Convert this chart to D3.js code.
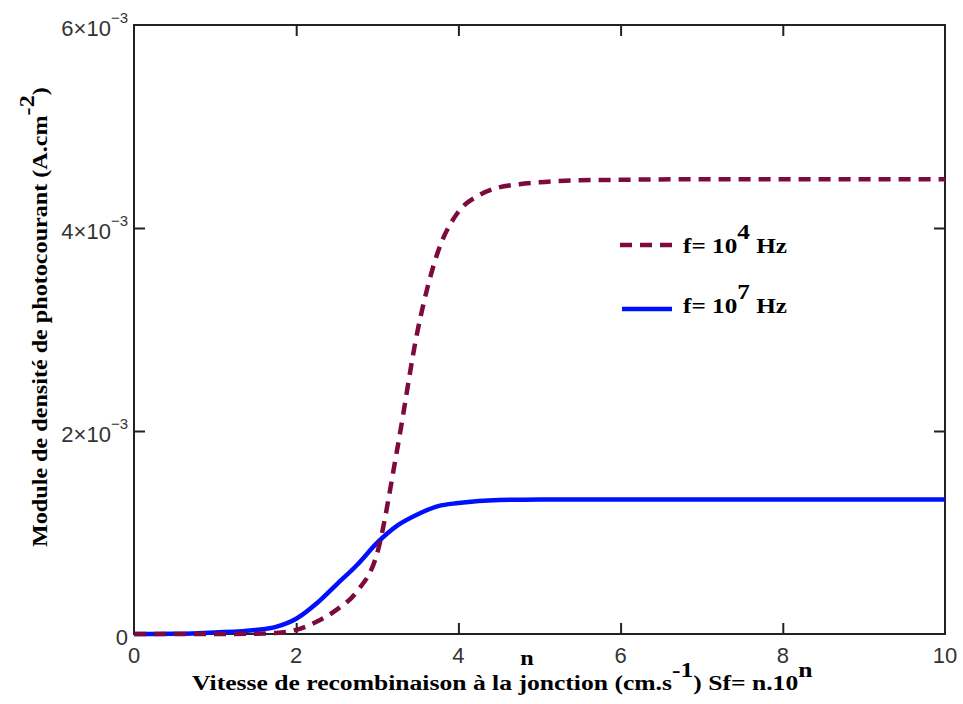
<!DOCTYPE html>
<html>
<head>
<meta charset="utf-8">
<script src="https://cdn.jsdelivr.net/npm/d3@7"></script>
<style>
  body { margin: 0; background: #fff; }
  .tick-label { font-family: "Liberation Sans", Arial, sans-serif; font-size: 22px; fill: #333; }
  .title { font-family: "Liberation Serif", "Times New Roman", serif; font-weight: bold; font-size: 21px; fill: #000; }
</style>
</head>
<body>
<script>
// Sf = n.10^n, n on the x axis
var nValues = [0, 0.5, 1, 1.5, 1.75, 2, 2.25, 2.5, 2.75, 3, 3.25, 3.5, 3.75, 4, 4.25, 4.5, 4.75, 5, 5.5, 6, 7, 8, 9, 10];

// photocurrent density modulus (A.cm-2)
var jF4 = [0, 0, 0, 0.000003, 0.00001, 0.00004, 0.00012, 0.00024, 0.00042, 0.00080, 0.00184, 0.00300, 0.00377, 0.00416, 0.00432, 0.00440, 0.00443, 0.00445, 0.00447, 0.004475, 0.00448, 0.00448, 0.00448, 0.00448];
var jF7 = [0, 0.000002, 0.000015, 0.00004, 0.00007, 0.00015, 0.00030, 0.00049, 0.00068, 0.00090, 0.00107, 0.00118, 0.00126, 0.00129, 0.00131, 0.00132, 0.001323, 0.001325, 0.001325, 0.001325, 0.001325, 0.001325, 0.001325, 0.001325];

var xTicks = [0, 2, 4, 6, 8, 10];
var yTicks = [0, 0.002, 0.004, 0.006];
var yTickMant = ["0", "2", "4", "6"];

var margin = {top: 25, right: 18, bottom: 70, left: 134},
    width = 963 - margin.left - margin.right,
    height = 704 - margin.top - margin.bottom;

var x = d3.scaleLinear().domain([0, 10]).range([0, width]);
var y = d3.scaleLinear().domain([0, 0.006]).range([height, 0]);

var svg = d3.select("body").append("svg")
    .attr("width", 963)
    .attr("height", 704);

var g = svg.append("g")
    .attr("transform", "translate(" + margin.left + "," + margin.top + ")");

// ticks on all four sides, pointing inward
var tickLen = 11;
g.append("g").call(d3.axisBottom(x).tickValues(xTicks.slice(1, -1)).tickSize(-tickLen).tickFormat(""))
    .attr("transform", "translate(0," + height + ")");
g.append("g").call(d3.axisTop(x).tickValues(xTicks.slice(1, -1)).tickSize(-tickLen).tickFormat(""));
g.append("g").call(d3.axisLeft(y).tickValues(yTicks.slice(1, -1)).tickSize(-tickLen).tickFormat(""));
g.append("g").call(d3.axisRight(y).tickValues(yTicks.slice(1, -1)).tickSize(-tickLen).tickFormat(""))
    .attr("transform", "translate(" + width + ",0)");
g.selectAll(".domain").remove();
g.selectAll(".tick line").attr("stroke", "#222").attr("stroke-width", 2);

// frame
g.append("rect")
    .attr("width", width)
    .attr("height", height)
    .attr("fill", "none")
    .attr("stroke", "#222")
    .attr("stroke-width", 2);

// x tick labels
g.selectAll(".xlab").data(xTicks).enter().append("text")
    .attr("class", "tick-label")
    .attr("x", function(d) { return x(d); })
    .attr("y", height + 29)
    .attr("text-anchor", "middle")
    .text(function(d) { return d; });

// y tick labels  (m x 10^-3)
yTicks.forEach(function(v, i) {
    var t = g.append("text")
        .attr("class", "tick-label")
        .attr("x", -6)
        .attr("y", y(v) + 11)
        .attr("text-anchor", "end");
    if (v === 0) {
        t.text("0");
    } else {
        t.append("tspan").text(yTickMant[i] + "\u00d710");
        t.append("tspan").attr("dy", -13).attr("font-size", "15px").text("\u2212" + "3");
    }
});

var curve = d3.line()
    .x(function(d, i) { return x(nValues[i]); })
    .y(function(d) { return y(d); })
    .curve(d3.curveMonotoneX);

// f = 10^7 Hz (solid)
g.append("path")
    .attr("d", curve(jF7))
    .attr("fill", "none")
    .attr("stroke", "#0010ff")
    .attr("stroke-width", 4.5);

// f = 10^4 Hz (dashed)
g.append("path")
    .attr("d", curve(jF4))
    .attr("fill", "none")
    .attr("stroke", "#7d0a3e")
    .attr("stroke-width", 4.5)
    .attr("stroke-dasharray", "12,8");

// legend
var legend = svg.append("g");
legend.append("line")
    .attr("x1", 620).attr("x2", 673).attr("y1", 245).attr("y2", 245)
    .attr("stroke", "#7d0a3e").attr("stroke-width", 4.5)
    .attr("stroke-dasharray", "12,8");
legend.append("line")
    .attr("x1", 622).attr("x2", 672).attr("y1", 309).attr("y2", 309)
    .attr("stroke", "#0010ff").attr("stroke-width", 4.5);

function legendText(yPos, exp) {
    var t = legend.append("text")
        .attr("class", "title")
        .attr("transform", "translate(683," + yPos + ") scale(1.2,1)");
    t.append("tspan").text("f= 10");
    t.append("tspan").attr("dy", -14).text(exp);
    t.append("tspan").attr("dy", 14).text(" Hz");
}
legendText(253, "4");
legendText(313, "7");

// x axis title
var xt = svg.append("text")
    .attr("class", "title")
    .attr("transform", "translate(192,690) scale(1.22,1)");
xt.append("tspan").text("Vitesse de recombinaison \u00e0 la jonction (cm.s");
xt.append("tspan").attr("dy", -13).text("-1");
xt.append("tspan").attr("dy", 13).text(")  Sf= n.10");
xt.append("tspan").attr("dy", -13).text("n");

svg.append("text")
    .attr("class", "title")
    .attr("transform", "translate(527,665) scale(1.15,1)")
    .attr("text-anchor", "middle")
    .text("n");

// y axis title
var yt = svg.append("text")
    .attr("class", "title")
    .attr("transform", "translate(47,547) rotate(-90) scale(1.15,1)");
yt.append("tspan").text("Module de densit\u00e9 de photocourant (A.cm");
yt.append("tspan").attr("dy", -13).text("-2");
yt.append("tspan").attr("dy", 13).text(")");
</script>
</body>
</html>
